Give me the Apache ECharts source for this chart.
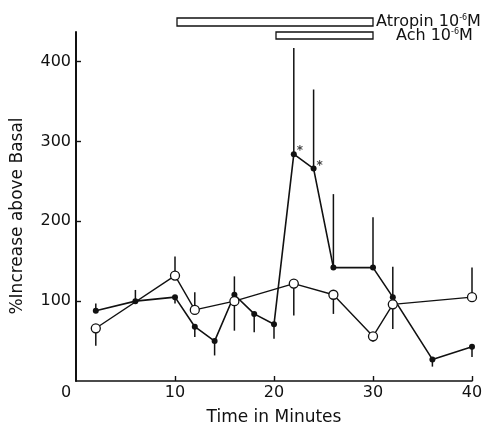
<!DOCTYPE html>
<html>
<head>
<meta charset="utf-8">
<script src="https://cdn.jsdelivr.net/npm/echarts@6/dist/echarts.min.js"></script>
<style>
  html, body { margin: 0; padding: 0; background: #fff; }
  #chart { width: 502px; height: 431px; }
</style>
</head>
<body>
<div id="chart"></div>
<script>
// Time points (minutes) and mean % increase above basal, with the end of each SEM bar
const filledTime = [2, 6, 10, 12, 14, 16, 18, 20, 22, 24, 26, 30, 32, 36, 40];
const filledMean = [88, 100, 105, 68, 50, 108, 84, 71, 284, 266, 142, 142, 105, 27, 43];
const filledErrEnd = [97, 114, 97, 55, 32, 131, 61, 53, 417, 365, 234, 205, 143, 18, 30];

const openTime = [2, 10, 12, 16, 22, 26, 30, 32, 40];
const openMean = [66, 132, 89, 100, 122, 108, 56, 96, 105];
const openErrEnd = [44, 156, 111, 63, 82, 84, 49, 65, 142];

// Points marked as significant
const sigTime = [22, 24];

// Axis ticks
const xTicks = [0, 10, 20, 30, 40];
const yTicks = [100, 200, 300, 400];

// Drug application periods shown above the plot
const drugNames = ['Atropin', 'Ach'];
const drugStart = [10, 20];
const drugEnd = [30, 30];

const FONT = 'DejaVu Sans';
const INK = '#111';

const pairs = (xs, ys) => xs.map((x, i) => [x, ys[i]]);
const errRows = (xs, ys, es) => xs.map((x, i) => [x, ys[i], es[i]]);

function renderErr(params, api) {
  const p1 = api.coord([api.value(0), api.value(1)]);
  const p2 = api.coord([api.value(0), api.value(2)]);
  return {
    type: 'line',
    shape: { x1: p1[0], y1: p1[1], x2: p2[0], y2: p2[1] },
    style: { stroke: INK, lineWidth: 1.5 }
  };
}

function renderDrug(params, api) {
  const row = params.dataIndex;
  const a = api.coord([api.value(0), 0]);
  const b = api.coord([api.value(1), 0]);
  const top = params.coordSys.y;
  const cy = top - 10 + row * 13.5;
  const h = row === 0 ? 8 : 7;
  const gap = row === 0 ? 3 : 23;
  return {
    type: 'group',
    children: [
      {
        type: 'rect',
        shape: { x: a[0] + 2, y: cy - h / 2, width: b[0] - a[0] - 2, height: h },
        style: { fill: '#fff', stroke: INK, lineWidth: 1.3 }
      },
      {
        type: 'text',
        x: b[0] + gap,
        y: cy,
        style: {
          text: '{n|' + drugNames[row] + ' 10}{s|-6}{n|M}',
          verticalAlign: 'middle',
          rich: {
            n: { fontFamily: FONT, fontSize: 16, fill: INK },
            s: { fontFamily: FONT, fontSize: 8, fill: INK, verticalAlign: 'top', padding: [0, 0, 8, 0] }
          }
        }
      }
    ]
  };
}

const chart = echarts.init(document.getElementById('chart'), null, { renderer: 'canvas' });

chart.setOption({
  backgroundColor: '#fff',
  animation: false,
  grid: { left: 76, right: 30, top: 32, bottom: 46 },
  xAxis: {
    type: 'value',
    min: 0,
    max: 40,
    interval: 10,
    name: 'Time in Minutes',
    nameLocation: 'middle',
    nameGap: 28,
    nameTextStyle: { fontFamily: FONT, fontSize: 17, color: INK },
    axisLine: { show: true, lineStyle: { color: INK, width: 1.6 } },
    axisTick: { show: true, inside: true, length: 5, lineStyle: { color: INK, width: 1.4 }, customValues: xTicks.slice(1) },
    axisLabel: {
      customValues: xTicks,
      margin: 4,
      fontFamily: FONT,
      fontSize: 16,
      color: INK,
      formatter: v => (v === 0 ? '{z|0}' : String(v)),
      rich: { z: { fontFamily: FONT, fontSize: 16, color: INK, padding: [0, 20, 0, 0] } }
    },
    splitLine: { show: false }
  },
  yAxis: {
    type: 'value',
    min: 0,
    max: 437,
    name: '%Increase above Basal',
    nameLocation: 'middle',
    nameGap: 50,
    nameTextStyle: { fontFamily: FONT, fontSize: 17, color: INK, padding: [0, 19, 0, 0] },
    axisLine: { show: true, lineStyle: { color: INK, width: 2 } },
    axisTick: { show: true, inside: true, length: 5, lineStyle: { color: INK, width: 1.4 }, customValues: yTicks },
    axisLabel: { customValues: yTicks, margin: 5, fontFamily: FONT, fontSize: 16, color: INK },
    splitLine: { show: false }
  },
  series: [
    {
      type: 'custom',
      name: 'drugs',
      renderItem: renderDrug,
      data: drugStart.map((s, i) => [s, drugEnd[i]]),
      clip: false,
      silent: true,
      z: 1
    },
    {
      type: 'custom',
      name: 'filledErr',
      renderItem: renderErr,
      data: errRows(filledTime, filledMean, filledErrEnd),
      silent: true,
      z: 2
    },
    {
      type: 'custom',
      name: 'openErr',
      renderItem: renderErr,
      data: errRows(openTime, openMean, openErrEnd),
      silent: true,
      z: 2
    },
    {
      type: 'line',
      name: 'filled',
      data: pairs(filledTime, filledMean),
      symbol: 'circle',
      symbolSize: 6,
      itemStyle: { color: INK },
      lineStyle: { color: INK, width: 1.6 },
      emphasis: { disabled: true },
      z: 3
    },
    {
      type: 'line',
      name: 'open',
      data: pairs(openTime, openMean),
      symbol: 'circle',
      symbolSize: 9,
      itemStyle: { color: '#fff', borderColor: INK, borderWidth: 1.3 },
      lineStyle: { color: INK, width: 1.4 },
      emphasis: { disabled: true },
      z: 4
    },
    {
      type: 'scatter',
      name: 'significance',
      data: sigTime.map(t => [t, filledMean[filledTime.indexOf(t)]]),
      symbolSize: 0,
      label: {
        show: true,
        formatter: '*',
        position: 'right',
        distance: 3,
        offset: [0, -3],
        fontFamily: FONT,
        fontSize: 12,
        fontWeight: 'bold',
        color: INK
      },
      emphasis: { disabled: true },
      z: 5
    }
  ]
});
</script>
</body>
</html>
